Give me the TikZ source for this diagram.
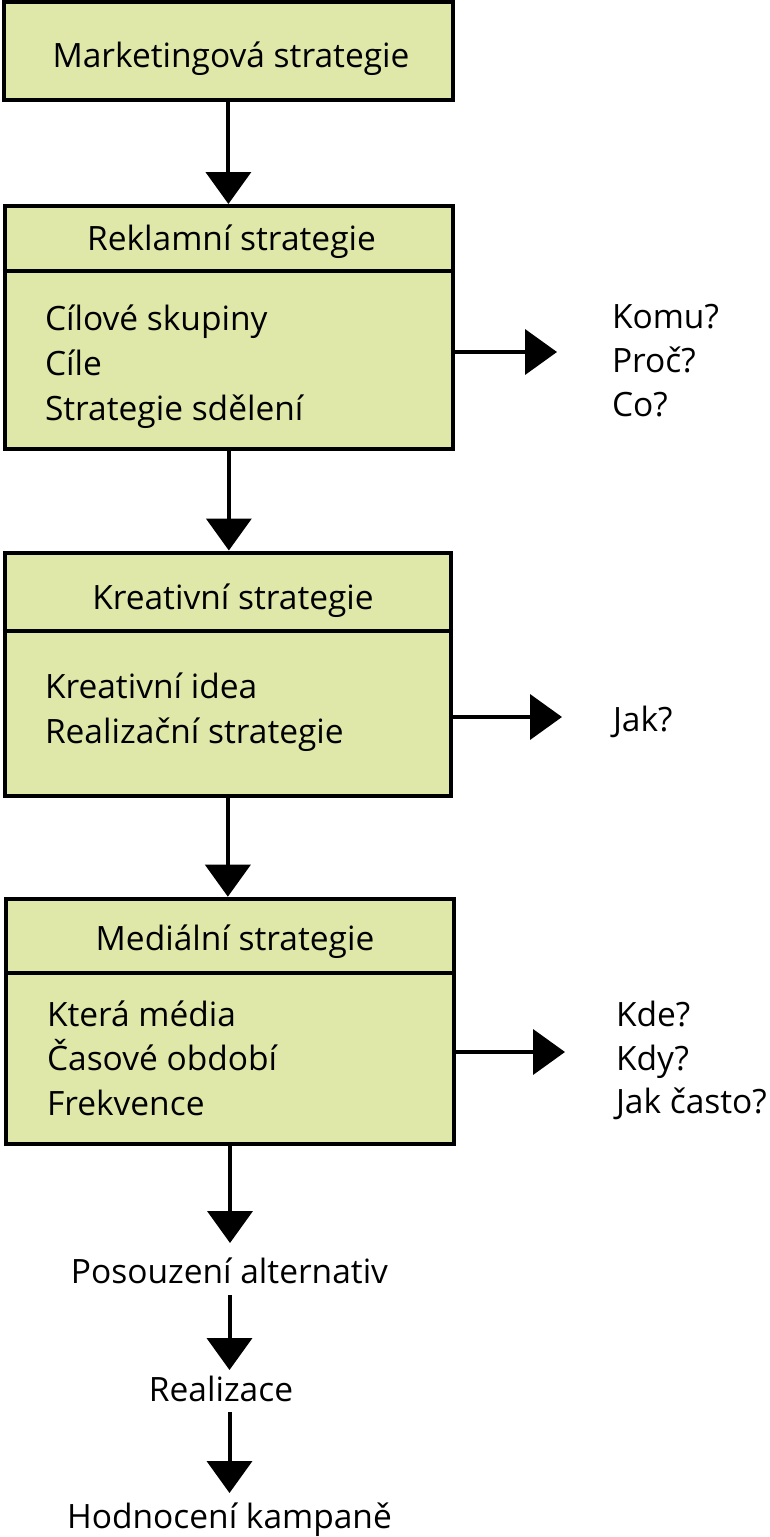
\documentclass[tikz,border=0pt]{standalone}
\usepackage{fontspec}
\setmainfont{Open Sans}
\usetikzlibrary{arrows.meta}
\definecolor{boxfill}{RGB}{223,232,168}
\tikzset{
  box/.style={draw=black, fill=boxfill, line width=4pt, inner sep=0pt, outer sep=0pt},
  txt/.style={inner sep=0pt, outer sep=0pt, font=\fontsize{33.5}{40}\selectfont, text height=24pt, text depth=0pt},
  conn/.style={line width=4pt, -{Triangle[length=32pt,width=45pt]}},
  divider/.style={line width=4pt}
}
\begin{document}
\begin{tikzpicture}[x=1pt,y=-1pt]
\useasboundingbox (0,0) rectangle (770,1537);
% boxes
\node[box, minimum width=449.3pt, minimum height=98pt] (b1) at (228.4,51) {};
\node[box, minimum width=448.3pt, minimum height=242.7pt] (b2) at (228.85,327.35) {};
\node[box, minimum width=446.3pt, minimum height=243pt] (b3) at (227.85,674) {};
\node[box, minimum width=447.6pt, minimum height=245.3pt] (b4) at (230,1021.35) {};
% dividers
\draw[divider] (b2.west |- 0,271) -- (b2.east |- 0,271);
\draw[divider] (b3.west |- 0,631) -- (b3.east |- 0,631);
\draw[divider] (b4.west |- 0,973) -- (b4.east |- 0,973);
% box texts
\node[txt, anchor=base] (t1) at (231,67.5) {Marketingová strategie};
\node[txt, anchor=base] (t2) at (231.5,250) {Reklamní strategie};
\node[txt, anchor=base west] (i21) at (45,330) {Cílové skupiny};
\node[txt, anchor=base west] (i22) at (45,375) {Cíle};
\node[txt, anchor=base west] (i23) at (45,420) {Strategie sdělení};
\node[txt, anchor=base] (t3) at (233,609) {Kreativní strategie};
\node[txt, anchor=base west] (i31) at (45,698) {Kreativní idea};
\node[txt, anchor=base west] (i32) at (45,743) {Realizační strategie};
\node[txt, anchor=base] (t4) at (235,950) {Mediální strategie};
\node[txt, anchor=base west] (i41) at (47,1026) {Která média};
\node[txt, anchor=base west] (i42) at (47,1070.5) {Časové období};
\node[txt, anchor=base west] (i43) at (47,1115) {Frekvence};
% side texts
\node[txt, anchor=base west] (q1) at (612,328) {Komu?};
\node[txt, anchor=base west] (q2) at (612,372) {Proč?};
\node[txt, anchor=base west] (q3) at (612,416) {Co?};
\node[txt, anchor=base west] (q4) at (613,731) {Jak?};
\node[txt, anchor=base west] (q5) at (616,1026) {Kde?};
\node[txt, anchor=base west] (q6) at (616,1070) {Kdy?};
\node[txt, anchor=base west] (q7) at (616,1113) {Jak často?};
% bottom texts
\node[txt, anchor=base] (pa) at (229.5,1283) {Posouzení alternativ};
\node[txt, anchor=base] (re) at (221,1401) {Realizace};
\node[txt, anchor=base] (hk) at (229.5,1528) {Hodnocení kampaně};
% side arrow ends
\coordinate (e2) at (557,352);
\coordinate (e3) at (562,717);
\coordinate (e4) at (565,1052);
% vertical connectors
\draw[conn, shorten >=2pt] (b1.south) -- (b1.south |- b2.north);
\draw[conn, shorten >=2pt] (b2.south) -- (b2.south |- b3.north);
\draw[conn, shorten >=2pt] (b3.south) -- (b3.south |- b4.north);
\draw[conn, shorten >=16pt] (b4.south) -- (b4.south |- pa.north);
\draw[conn, shorten <=12pt, shorten >=7pt] (pa.south) -- (pa.south |- re.north);
\draw[conn, shorten <=11pt, shorten >=11pt] (pa.south |- re.south) -- (pa.south |- hk.north);
% side connectors
\draw[conn] (b2.east |- e2) -- (e2);
\draw[conn] (b3.east |- e3) -- (e3);
\draw[conn] (b4.east |- e4) -- (e4);
\end{tikzpicture}
\end{document}
